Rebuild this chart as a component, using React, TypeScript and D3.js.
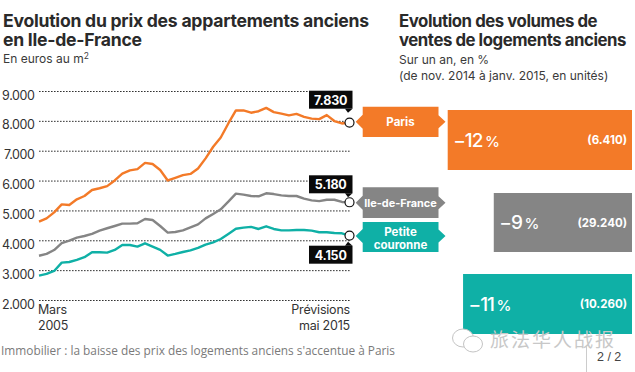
import React from "react";
import * as d3 from "d3";

const quarters = d3.range(42);
const paris = [4640,4750,4950,5220,5200,5390,5500,5700,5760,5830,6020,6250,6360,6400,6610,6570,6370,6020,6110,6200,6240,6420,6760,7150,7460,7930,8365,8365,8290,8340,8450,8310,8260,8200,8250,8150,8090,8075,8210,8010,7930,7960];
const idf = [3500,3560,3690,3920,4005,4105,4160,4230,4340,4420,4495,4575,4575,4585,4730,4695,4495,4275,4295,4350,4450,4550,4750,4900,5055,5310,5580,5545,5500,5490,5590,5565,5520,5500,5500,5410,5355,5330,5375,5375,5300,5290];
const petite = [2835,2890,2990,3270,3290,3360,3450,3615,3615,3605,3695,3860,3860,3805,3915,3805,3695,3505,3560,3625,3680,3760,3870,3950,4060,4230,4405,4440,4465,4395,4485,4395,4350,4350,4360,4360,4340,4285,4285,4260,4250,4173];
const yTicks = [9000,8000,7000,6000,5000,4000,3000,2000];
const colors = { paris: "#f37a28", idf: "#858585", petite: "#0fb0a6" };
const volumePct = [12, 9, 11];
const volumeLabels = ["(6.410)", "(29.240)", "(10.260)"];
const volumePctNums = ["−12", "−9", "−11"];
const volumeColors = [colors.paris, colors.idf, colors.petite];
const FONT = "Inter, 'Open Sans', sans-serif";
const fmt = (v: number) => d3.format(",")(v).replace(",", ".");

export default function App() {
  const x = d3.scaleLinear().domain([0, 41]).range([39, 349.5]);
  const y = d3.scaleLinear().domain([2000, 9000]).range([300.5, 91.5]);
  const line = d3.line<number>().x((_, i) => x(quarters[i])).y((d) => y(d));
  const w = d3.scaleLinear().domain([0, 12]).range([0, 184.3]);
  const series = [
    { data: paris, color: colors.paris },
    { data: idf, color: colors.idf },
    { data: petite, color: colors.petite },
  ];
  const tag = (x0: number, x1: number, y0: number, y1: number, c: number) =>
    `M${x0},${y0}H${x1}V${c - 6.5}L${x1 + 7},${c}L${x1},${c + 6.5}V${y1}H${x0}V${c + 7}L${x0 - 7},${c}L${x0},${c - 7}Z`;
  const bars = [
    { top: 110, bottom: 170 },
    { top: 193, bottom: 252 },
    { top: 274, bottom: 334 },
  ];
  const black = [
    { text: "7.830", top: 90.7, tip: 1 },
    { text: "5.180", top: 175.3, tip: 1 },
    { text: "4.150", top: 245.7, tip: -1 },
  ];
  return (
    <svg width={635} height={372} style={{ position: "fixed", left: 0, top: 0, background: "#fff" }} fontFamily={FONT}>
      <g fontWeight={700} fill="#2a2a2a">
        <g fontSize={17.6} letterSpacing={-0.25}>
          <text x={3} y={27}>Evolution du prix des appartements anciens</text>
          <text x={3} y={45.7}>en Ile-de-France</text>
        </g>
        <g fontSize={16.8} letterSpacing={-0.45}>
          <text x={399} y={26.7}>Evolution des volumes de</text>
          <text x={399} y={45.7}>ventes de logements anciens</text>
        </g>
      </g>
      <g fontSize={12} fill="#3a3a3a">
        <text x={3} y={63}>En euros au m<tspan dy={-4.5} fontSize={8.5}>2</tspan></text>
        <text x={399} y={63.5}>Sur un an, en %</text>
        <text x={399} y={80}>(de nov. 2014 à janv. 2015, en unités)</text>
      </g>
      {yTicks.map((t) => (
        <g key={t}>
          <line x1={39} x2={350} y1={y(t)} y2={y(t)} stroke="#333" strokeWidth={1} strokeDasharray="1.6 1.4" />
          <text x={34.5} y={y(t) + 8} textAnchor="end" fontSize={12.5} fill="#333" letterSpacing={-0.4}>{fmt(t)}</text>
        </g>
      ))}
      <g fontSize={12.5} fill="#333" letterSpacing={-0.2}>
        <text x={38} y={314}>Mars</text>
        <text x={38} y={330}>2005</text>
        <text x={350} y={314} textAnchor="end">Prévisions</text>
        <text x={350} y={330} textAnchor="end">mai 2015</text>
      </g>
      {series.map((s) => (
        <path key={s.color} d={line(s.data) ?? ""} fill="none" stroke={s.color} strokeWidth={2.4} strokeLinejoin="round" />
      ))}
      {black.map((b) => (
        <g key={b.text}>
          <rect x={309} y={b.top} width={43.5} height={18} fill="#0a0a0a" />
          <path
            d={b.tip > 0
              ? `M345,${b.top + 18}H352.5L348,${b.top + 22}Z`
              : `M345,${b.top}H352.5L348,${b.top - 4}Z`}
            fill="#0a0a0a"
          />
          <text x={330.7} y={b.top + 14} textAnchor="middle" fontSize={12.5} fontWeight={700} fill="#fff" letterSpacing={-0.2}>{b.text}</text>
        </g>
      ))}
      {series.map((s) => (
        <circle key={s.color} cx={x(41)} cy={y(s.data[41])} r={4.5} fill="#fff" stroke="#111" strokeWidth={1.2} />
      ))}
      <path d={tag(362.7, 438.5, 106.7, 137, 121.7)} fill={colors.paris} />
      <path d={tag(362.7, 438.5, 187.3, 218, 202.7)} fill={colors.idf} />
      <path d={tag(362.7, 438.5, 222, 252, 236)} fill={colors.petite} />
      <g fill="#fff" fontWeight={700} fontSize={11.5} textAnchor="middle">
        <text x={400.5} y={126}>Paris</text>
        <text x={400.5} y={207} fontSize={10.9}>Ile-de-France</text>
        <text x={400.5} y={236}>Petite</text>
        <text x={400.5} y={248.5}>couronne</text>
      </g>
      {volumePct.map((p, i) => {
        const x0 = 632 - w(p);
        const cy = (bars[i].top + bars[i].bottom) / 2;
        return (
          <g key={p}>
            <rect x={x0} y={bars[i].top} width={w(p)} height={bars[i].bottom - bars[i].top} fill={volumeColors[i]} />
            <text x={x0 + 5.5} y={cy + 6.5} fill="#fff" fontSize={19} fontWeight={500} letterSpacing={-1}>
              {volumePctNums[i]}
              <tspan fontSize={15} dx={2.5}>%</tspan>
            </text>
            <text x={627} y={cy + 4} fill="#fff" fontSize={11.5} fontWeight={700} textAnchor="end">{volumeLabels[i]}</text>
          </g>
        );
      })}
      <text x={1} y={354.5} fontSize={13.5} fill="#7a7a7a" fontFamily="'Open Sans', sans-serif" textLength={394} lengthAdjust="spacingAndGlyphs">Immobilier : la baisse des prix des logements anciens s'accentue à Paris</text>
      <g fill="#fff" stroke="#c4c4c4" strokeWidth={1}>
        <ellipse cx={463} cy={338} rx={10.5} ry={9} />
        <ellipse cx={473} cy={344} rx={9.5} ry={8} />
      </g>
      <text x={490} y={347} fontSize={19} fill="#c8c8c8" letterSpacing={2} fontFamily="'Noto Sans CJK SC', sans-serif">旅法华人战报</text>
      <line x1={586.5} x2={586.5} y1={345} y2={372} stroke="#ccc" />
      <text x={597} y={361} fontSize={12.5} fill="#444" fontFamily="'Liberation Sans', sans-serif">2 / 2</text>
    </svg>
  );
}
